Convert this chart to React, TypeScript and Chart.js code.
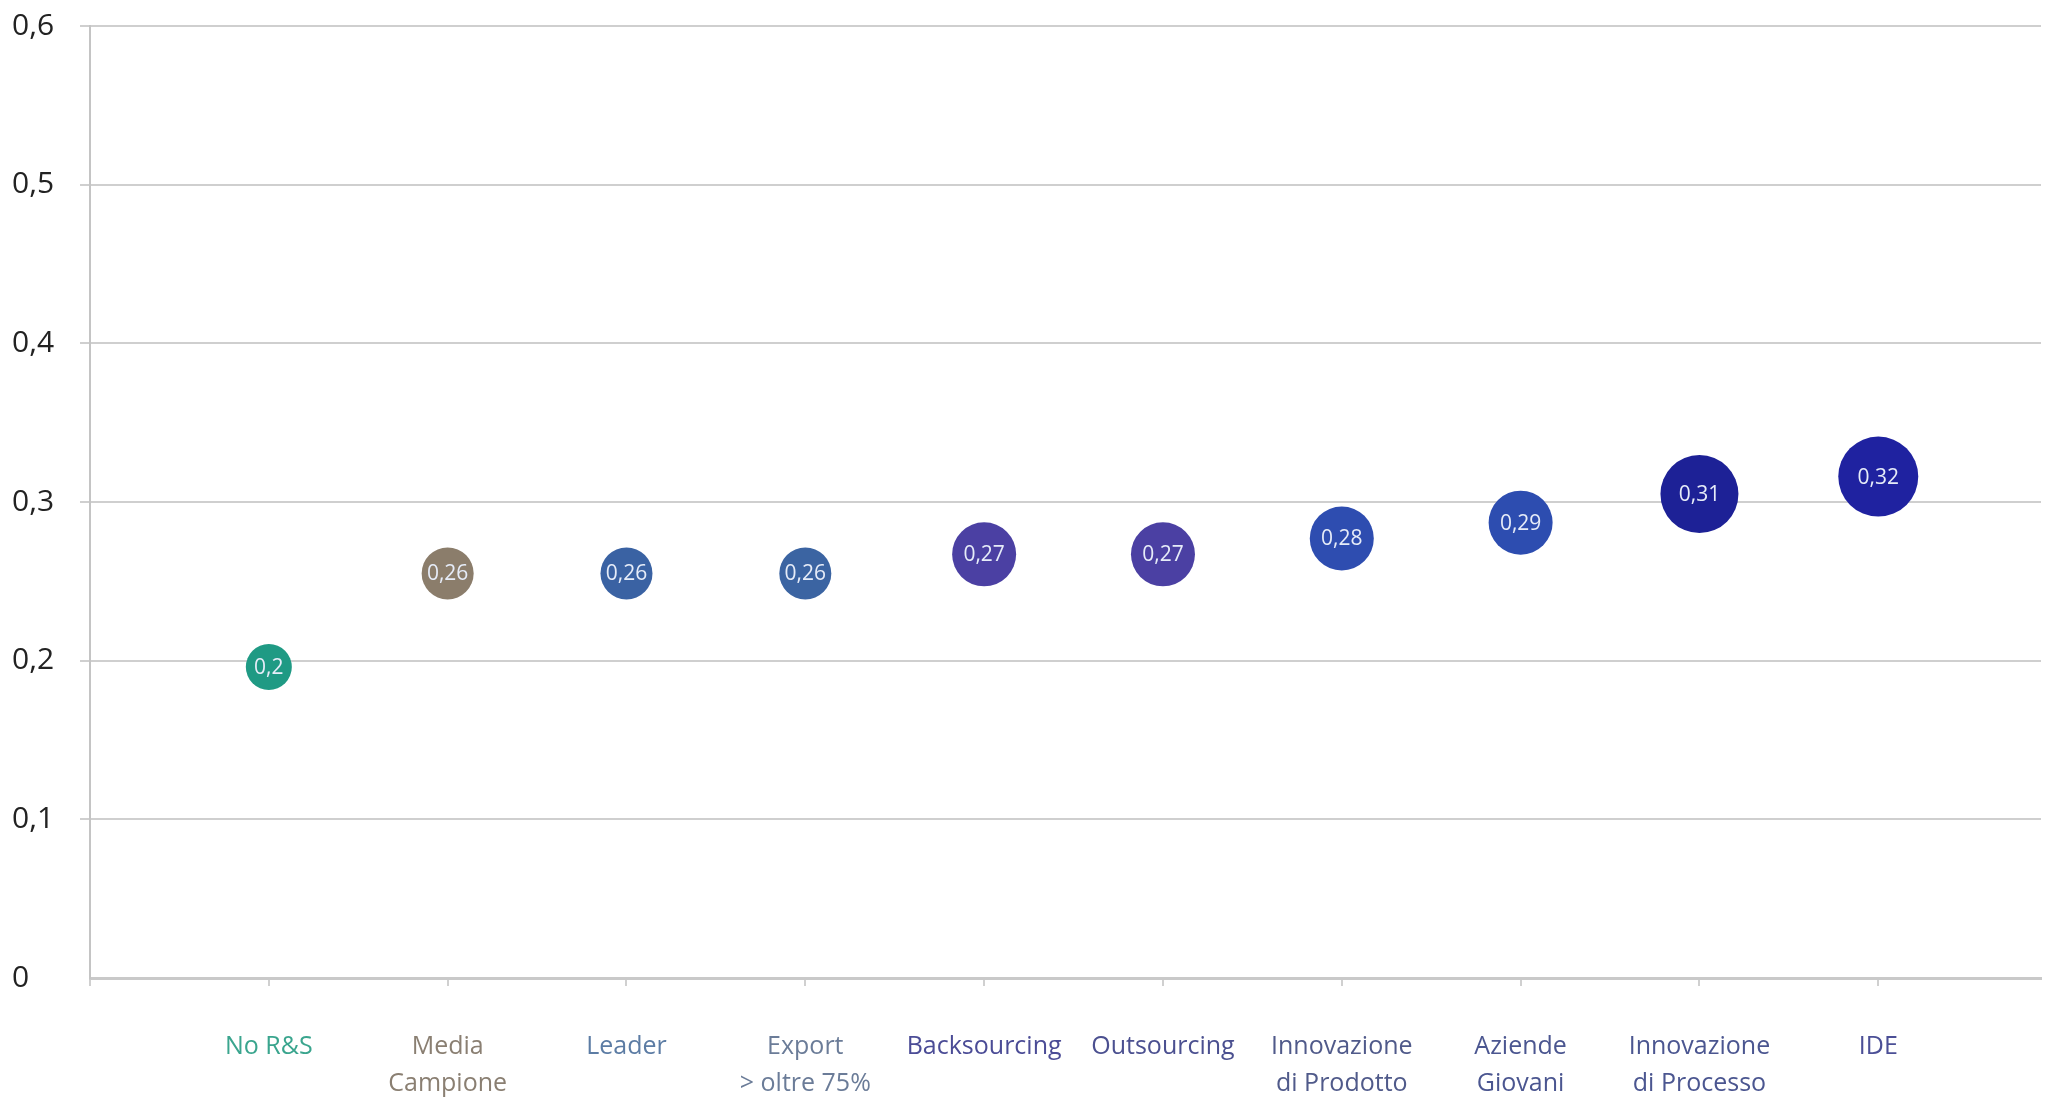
import React, { useEffect, useRef } from "react";
import { Chart, registerables } from "chart.js";

Chart.register(...registerables);

const categories = [
  "No R&S",
  "Media\nCampione",
  "Leader",
  "Export\n> oltre 75%",
  "Backsourcing",
  "Outsourcing",
  "Innovazione\ndi Prodotto",
  "Aziende\nGiovani",
  "Innovazione\ndi Processo",
  "IDE",
];
const positions = [1, 2, 3, 4, 5, 6, 7, 8, 9, 10];
const values = [0.196, 0.255, 0.255, 0.255, 0.267, 0.267, 0.277, 0.287, 0.305, 0.316];
const valueLabels = ["0,2", "0,26", "0,26", "0,26", "0,27", "0,27", "0,28", "0,29", "0,31", "0,32"];
const bubbleSizes = [23, 26, 26, 26, 32, 32, 32, 32, 39, 40];
const bubbleColors = [
  "#1f9a84", "#8b7d6b", "#3a62a3", "#3b64a2", "#4b40a3",
  "#4b40a3", "#2e4db0", "#2d4db0", "#1d2196", "#1f22a0",
];
const labelColors = [
  "#3aa58e", "#8a7f72", "#5c7ca4", "#6b7c98", "#4b4c96",
  "#4b5090", "#505a8a", "#4b5690", "#4b5690", "#4b4f96",
];
const yTicks = [0, 0.1, 0.2, 0.3, 0.4, 0.5, 0.6];

const bubbleLabelPlugin = {
  id: "bubbleLabels",
  afterDatasetsDraw(chart: any) {
    const { ctx } = chart;
    const meta = chart.getDatasetMeta(0);
    ctx.save();
    ctx.font = "21px 'Open Sans'";
    ctx.fillStyle = "#e6ecf8";
    ctx.textAlign = "center";
    ctx.textBaseline = "middle";
    meta.data.forEach((el: any, i: number) => {
      ctx.fillText(valueLabels[i], el.x, el.y + 1);
    });
    ctx.restore();
  },
};

export default function App() {
  const ref = useRef<HTMLCanvasElement>(null);
  useEffect(() => {
    if (!ref.current) return;
    const chart = new Chart(ref.current, {
      type: "bubble",
      data: {
        datasets: [
          {
            data: positions.map((p, i) => ({ x: p, y: values[i], r: bubbleSizes[i] })),
            backgroundColor: bubbleColors,
            borderWidth: 0,
          },
        ],
      },
      options: {
        responsive: false,
        animation: false,
        layout: { autoPadding: false, padding: { left: 12, right: 8, top: 26, bottom: 0 } },
        plugins: { legend: { display: false }, tooltip: { enabled: false } },
        scales: {
          x: {
            type: "linear",
            min: 0,
            max: 10.91,
            afterBuildTicks: (scale: any) => {
              scale.ticks = [0, ...positions].map((v) => ({ value: v }));
            },
            afterFit: (scale: any) => {
              scale.height = 125;
            },
            border: { display: true, color: "#c9c9c9", width: 3 },
            grid: {
              drawOnChartArea: false,
              drawTicks: true,
              tickLength: 8,
              color: "#d0d0d0",
              lineWidth: 2,
            },
            ticks: {
              autoSkip: false,
              maxRotation: 0,
              minRotation: 0,
              padding: 43,
              font: { family: "'Open Sans'", size: 25, lineHeight: 1.45 },
              color: (ctx: any) => labelColors[ctx.index - 1] || "#666",
              callback: (v: any) => {
                const i = positions.indexOf(v);
                return i >= 0 ? categories[i].split("\n") : "";
              },
            },
          },
          y: {
            min: 0,
            max: 0.6,
            afterBuildTicks: (scale: any) => {
              scale.ticks = yTicks.map((v) => ({ value: v }));
            },
            afterFit: (scale: any) => {
              scale.width = 78;
            },
            border: { display: true, color: "#c4c4c4", width: 2 },
            grid: {
              color: (ctx: any) => (ctx.tick && ctx.tick.value === 0 ? "rgba(0,0,0,0)" : "#cfcfcf"),
              lineWidth: 2,
              tickLength: 10,
            },
            ticks: {
              crossAlign: "far",
              color: "#222222",
              font: { family: "'Open Sans'", size: 30 },
              callback: (v: any) => (v === 0 ? "0" : String(Math.round(v * 10) / 10).replace(".", ",")),
            },
          },
        },
      },
      plugins: [bubbleLabelPlugin],
    });
    return () => chart.destroy();
  }, []);
  return (
    <div style={{ position: "fixed", left: 0, top: 0, width: 2049, height: 1103, background: "#fff" }}>
      <canvas ref={ref} width={2049} height={1103} />
    </div>
  );
}
